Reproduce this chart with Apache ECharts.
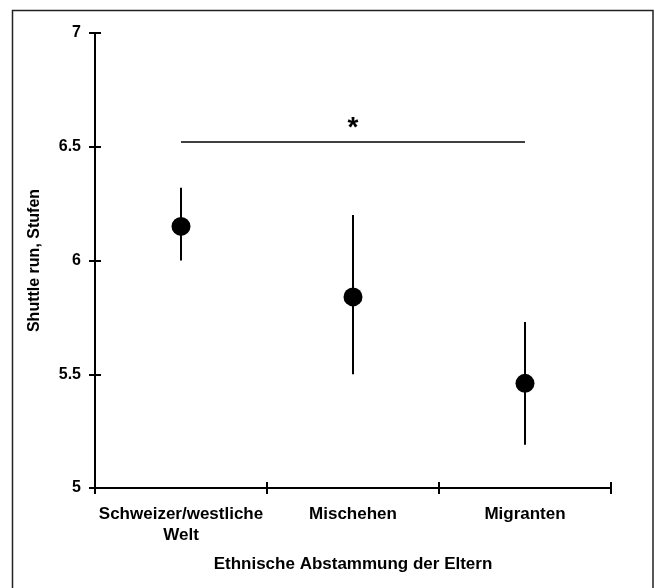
<!DOCTYPE html>
<html>
<head>
<meta charset="utf-8">
<script src="https://cdn.jsdelivr.net/npm/echarts@6/dist/echarts.min.js"></script>
<style>
  html, body { margin: 0; padding: 0; background: #fff; }
  #main { width: 655px; height: 588px; }
</style>
</head>
<body>
<div id="main"></div>
<script>
// Daten
var categories = ['Schweizer/westliche\nWelt', 'Mischehen', 'Migranten'];
var means = [6.15, 5.84, 5.46];
var lower = [6.0, 5.5, 5.19];
var upper = [6.32, 6.2, 5.73];
var sigLevel = 6.52;
var yTicks = [5, 5.5, 6, 6.5, 7];

var font = 'Liberation Sans, Arial, sans-serif';
var myChart = echarts.init(document.getElementById('main'));

myChart.setOption({
    animation: false,
    graphic: [{
        type: 'rect',
        shape: { x: 12.5, y: 10.5, width: 640.5, height: 590 },
        style: { fill: 'none', stroke: '#222', lineWidth: 1.5 }
    }],
    grid: { left: 95, right: 44, top: 33, bottom: 100 },
    xAxis: [{
        type: 'category',
        data: categories,
        name: 'Ethnische Abstammung der Eltern',
        nameLocation: 'middle',
        nameGap: 68,
        nameTextStyle: { fontFamily: font, fontWeight: 'bold', fontSize: 17, color: '#000' },
        axisLine: { lineStyle: { color: '#000', width: 2 } },
        axisTick: { show: true, length: 6, lineStyle: { color: '#000', width: 2 } },
        axisLabel: { interval: 0, fontFamily: font, fontWeight: 'bold', fontSize: 17, color: '#000', margin: 16, lineHeight: 21 }
    }, {
        type: 'category',
        data: categories,
        position: 'bottom',
        axisLine: { show: false },
        axisTick: { show: true, inside: true, length: 6, lineStyle: { color: '#000', width: 2 } },
        axisLabel: { show: false }
    }],
    yAxis: [{
        type: 'value',
        min: yTicks[0],
        max: yTicks[yTicks.length - 1],
        interval: 0.5,
        name: 'Shuttle run, Stufen',
        nameLocation: 'middle',
        nameGap: 52,
        nameTextStyle: { fontFamily: font, fontWeight: 'bold', fontSize: 16, color: '#000' },
        splitLine: { show: false },
        axisLine: { show: true, lineStyle: { color: '#000', width: 2 } },
        axisTick: { show: true, length: 6, lineStyle: { color: '#000', width: 2 } },
        axisLabel: { fontFamily: font, fontWeight: 'bold', fontSize: 16, color: '#000', margin: 14 }
    }, {
        type: 'value',
        min: yTicks[0],
        max: yTicks[yTicks.length - 1],
        interval: 0.5,
        position: 'left',
        splitLine: { show: false },
        axisLine: { show: false },
        axisTick: { show: true, inside: true, length: 6, lineStyle: { color: '#000', width: 2 } },
        axisLabel: { show: false }
    }],
    series: [{
        name: 'Fehler',
        type: 'custom',
        renderItem: function (params, api) {
            var x = api.value(0);
            var top = api.coord([x, api.value(2)]);
            var bot = api.coord([x, api.value(1)]);
            return {
                type: 'line',
                shape: { x1: top[0], y1: top[1], x2: bot[0], y2: bot[1] },
                style: { stroke: '#000', lineWidth: 2 }
            };
        },
        data: categories.map(function (c, i) { return [i, lower[i], upper[i]]; }),
        z: 2
    }, {
        name: 'Mittelwert',
        type: 'scatter',
        symbol: 'circle',
        symbolSize: 19,
        itemStyle: { color: '#000', opacity: 1 },
        emphasis: { disabled: true },
        data: means,
        z: 3,
        markLine: {
            silent: true,
            symbol: ['none', 'none'],
            lineStyle: { color: '#000', width: 1.5, type: 'solid' },
            label: {
                show: true,
                position: 'middle',
                formatter: '*',
                fontFamily: font,
                fontWeight: 'bold',
                fontSize: 28,
                color: '#000',
                distance: 0
            },
            data: [[{ coord: [0, sigLevel] }, { coord: [2, sigLevel] }]]
        }
    }]
});
</script>
</body>
</html>
